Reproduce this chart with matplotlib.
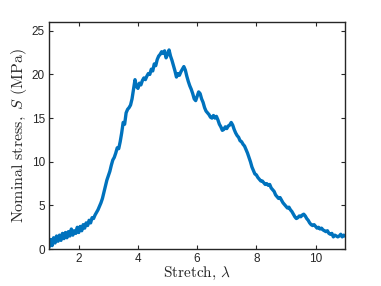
import numpy as np
import matplotlib
matplotlib.use("Agg")
import matplotlib.pyplot as plt

# Stretch grid, 1 to 11 in steps of 0.05
stretch = np.round(np.linspace(1.0, 11.0, 201), 2)

# Nominal stress (MPa), one row per unit of stretch
stress = [
    0.3, 1.1, 0.4, 1.3, 0.7, 1.5, 0.9, 1.6, 1.0, 1.8, 1.2, 1.9, 1.3, 2.0, 1.5, 2.3, 1.6, 2.1, 1.8, 2.5,
    1.9, 2.6, 2.1, 2.8, 2.4, 3.0, 2.7, 3.3, 3.0, 3.6, 3.5, 3.9, 4.2, 4.5, 4.9, 5.3, 5.8, 6.5, 7.2, 7.9,
    8.4, 8.9, 9.6, 10.2, 10.5, 11.0, 11.6, 11.5, 12.3, 13.3, 14.5, 14.3, 15.6, 16.0, 16.2, 16.5, 17.2, 18.3, 19.4, 18.6,
    18.4, 19.0, 18.8, 19.3, 19.6, 19.4, 19.8, 20.1, 20.0, 20.6, 20.4, 21.2, 21.0, 21.7, 22.1, 22.3, 22.6, 22.4, 22.7, 21.9,
    22.3, 22.8, 22.1, 21.6, 21.0, 20.4, 19.7, 20.1, 19.9, 20.3, 20.6, 20.9, 20.5, 19.8, 19.2, 18.7, 18.3, 17.8, 17.2, 17.0,
    17.5, 18.0, 17.8, 17.2, 16.8, 16.2, 15.8, 15.6, 15.4, 15.1, 15.0, 15.3, 15.0, 15.2, 14.8, 14.3, 14.0, 13.6, 13.7, 14.0,
    13.8, 14.1, 14.2, 14.5, 14.2, 13.7, 13.3, 13.0, 12.8, 12.4, 12.3, 12.0, 11.8, 11.4, 11.0, 10.5, 10.0, 9.4, 9.0, 8.6,
    8.5, 8.2, 8.0, 7.8, 7.8, 7.6, 7.4, 7.5, 7.3, 7.4, 7.0, 6.8, 6.6, 6.2, 6.0, 5.8, 5.9, 5.6, 5.3, 5.1,
    4.9, 4.7, 4.8, 4.5, 4.3, 4.0, 3.7, 3.5, 3.6, 3.8, 3.7, 3.9, 4.0, 3.8, 3.5, 3.3, 3.0, 2.8, 2.7, 2.8,
    2.6, 2.4, 2.5, 2.3, 2.4, 2.2, 2.1, 2.0, 2.1, 1.8, 1.7, 1.8, 1.4, 1.6, 1.5, 1.4, 1.5, 1.7, 1.4, 1.6,
    1.5,
]

x_ticks = [2, 4, 6, 8, 10]
y_ticks = [0, 5, 10, 15, 20, 25]

plt.rcParams["font.family"] = ["Liberation Sans", "DejaVu Sans"]
plt.rcParams["mathtext.fontset"] = "cm"

fig = plt.figure(figsize=(3.81, 2.86), dpi=100)
ax = fig.add_axes([0.129, 0.129, 0.777, 0.794])

ax.plot(stretch, stress, color="#0072BD", linewidth=2.4)

ax.set_xlim(1, 11)
ax.set_ylim(0, 26)
ax.set_xticks(x_ticks)
ax.set_yticks(y_ticks)

dark = "#262626"
for s in ax.spines.values():
    s.set_color(dark)
    s.set_linewidth(1.0)
ax.tick_params(direction="in", top=True, right=True, length=3, width=0.8,
               colors=dark, labelsize=8.5, pad=3)

ax.set_xlabel(r"$\mathrm{Stretch,}\,\lambda$", fontsize=11, color=dark, labelpad=0)
ax.set_ylabel(r"$\mathrm{Nominal\ stress,}\ S\ \mathrm{(MPa)}$", fontsize=11.5, color=dark, labelpad=2)

fig.savefig("out.png", dpi=100)
